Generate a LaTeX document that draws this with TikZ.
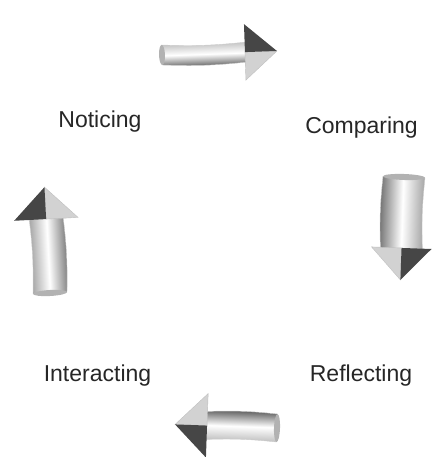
\documentclass[tikz,border=0pt]{standalone}
\usepackage{fontspec}
\setmainfont{Liberation Sans}
\usetikzlibrary{positioning}
\tikzset{
  stage/.style      = {font=\fontsize{23bp}{27bp}\selectfont, inner sep=0pt,
                       anchor=base, text=black!85},
  band/.style       = {draw=gray!40, line width=0.4pt, top color=gray!#1,
                       bottom color=gray!#1!black!90, middle color=white},
  head dark/.style  = {fill=gray!55!black, draw=none},
  head light/.style = {fill=gray!35, draw=gray!50, line width=0.4pt},
  tail cap/.style   = {fill=gray!60, draw=none},
}

\begin{document}
\begin{tikzpicture}[x=1bp, y=1bp]
    \useasboundingbox (0,0) rectangle (434,457);
    % the four stages of the cycle
    \node[stage] (noticing)    at (100,329)   {Noticing};
    \node[stage] (comparing)   at (361.5,323) {Comparing};
    \node[stage] (reflecting)  at (361,75)    {Reflecting};
    \node[stage] (interacting) at (97.5,75)   {Interacting};
    % shaded block arrows between them
    \foreach \x/\y/\a/\len/\t/\w/\g in {162/402/2/115/10/28/55,
                                        404/280/-92/103/21/30/75,
                                        277/29/178/102/14/32/55,
                                        50/164/93/106/17/32/80} {
      \begin{scope}[shift={(\x,\y)}, rotate=\a]
        \path[band=\g, shading angle=\a]
          (0,-\t) to[bend right=4] (\len-30,-\t) -- (\len-30,\t)
          to[bend left=4] (0,\t) -- cycle;
        \fill[tail cap] (0,0) ellipse [x radius=3, y radius=\t];
        \filldraw[head light] (\len-32,-\w) -- (\len,0) -- (\len-32,0) -- cycle;
        \fill[head dark] (\len-32,\w) -- (\len,0) -- (\len-32,0) -- cycle;
      \end{scope}
    }
\end{tikzpicture}
\end{document}
